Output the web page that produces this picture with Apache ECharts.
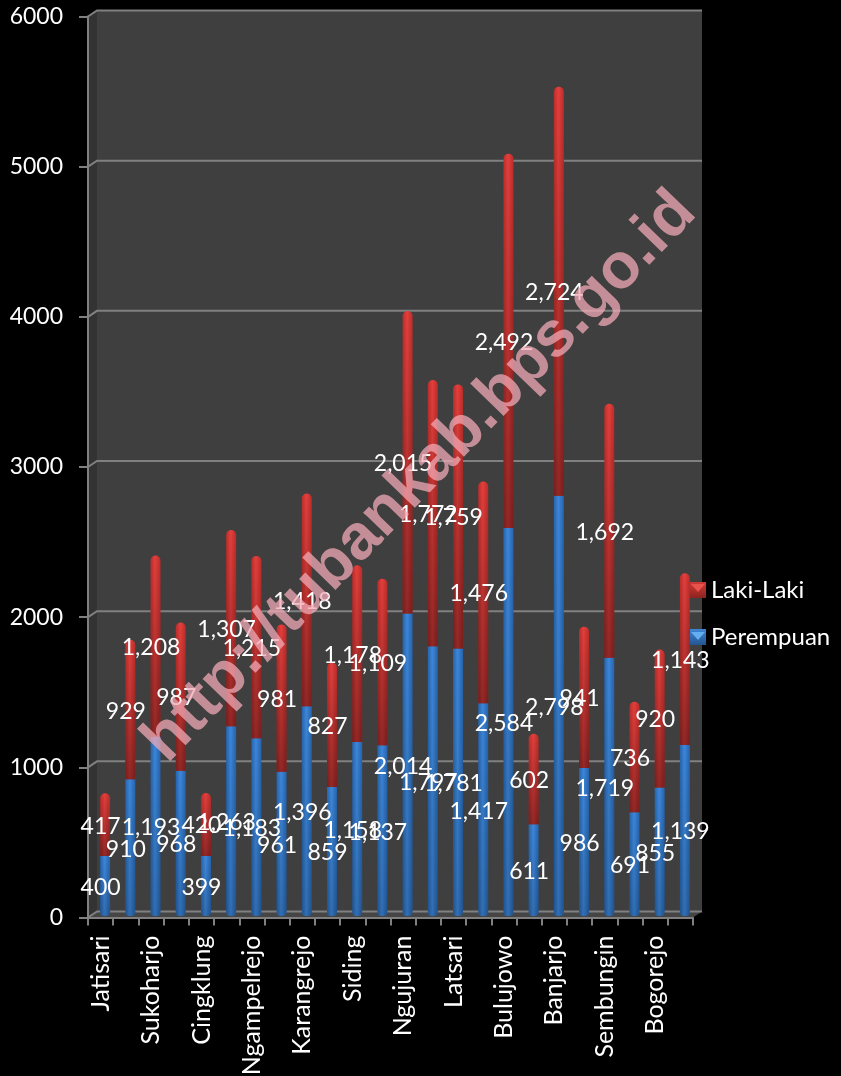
<!DOCTYPE html>
<html>
<head>
<meta charset="utf-8">
<style>
  html, body { margin: 0; padding: 0; background: #000; }
  #chart-container { width: 841px; height: 1076px; }
</style>
<script src="https://cdn.jsdelivr.net/npm/echarts@6/dist/echarts.min.js"></script>
</head>
<body>
<div id="chart-container"></div>
<script>
// every second name is not printed in the source picture
const categories = ['Jatisari', '', 'Sukoharjo', '', 'Cingklung', '', 'Ngampelrejo', '', 'Karangrejo', '', 'Siding', '',
  'Ngujuran', '', 'Latsari', '', 'Bulujowo', '', 'Banjarjo', '', 'Sembungin', '', 'Bogorejo', ''];
const perempuan = [400, 910, 1193, 968, 399, 1263, 1183, 961, 1396, 859, 1158, 1137,
  2014, 1797, 1781, 1417, 2584, 611, 2798, 986, 1719, 691, 855, 1139];
const lakiLaki = [417, 929, 1208, 987, 420, 1307, 1215, 981, 1418, 827, 1178, 1109,
  2015, 1772, 1759, 1476, 2492, 602, 2724, 941, 1692, 736, 920, 1143];
const yTicks = [0, 1000, 2000, 3000, 4000, 5000, 6000];

const FONT = 'Lato';
const GRID_COLOR = '#808080';
const DEPTH_X = 9;
const DEPTH_Y = 6;

function hGrad(edge, mid) {
  return new echarts.graphic.LinearGradient(0, 0, 1, 0, [
    { offset: 0, color: edge },
    { offset: 0.45, color: mid },
    { offset: 1, color: edge }
  ]);
}

// back wall, side wall, floor and the gridlines on them
function renderWall(params, api) {
  const cs = params.coordSys;
  const left = cs.x, right = cs.x + cs.width, top = cs.y, bottom = cs.y + cs.height;
  const y = api.coord([0, yTicks[params.dataIndex]])[1];
  const children = [];
  if (params.dataIndex === 0) {
    children.push({
      type: 'rect',
      shape: { x: left + DEPTH_X, y: top - DEPTH_Y, width: cs.width, height: cs.height },
      style: { fill: '#3f3f3f' }
    }, {
      type: 'polygon',
      shape: { points: [[left, top], [left + DEPTH_X, top - DEPTH_Y], [left + DEPTH_X, bottom - DEPTH_Y], [left, bottom]] },
      style: { fill: '#333333' }
    }, {
      type: 'polygon',
      shape: { points: [[left, bottom], [left + DEPTH_X, bottom - DEPTH_Y], [right + DEPTH_X, bottom - DEPTH_Y], [right, bottom]] },
      style: { fill: '#454545' }
    });
  }
  children.push({
    type: 'polyline',
    shape: { points: [[left, y], [left + DEPTH_X, y - DEPTH_Y], [right + DEPTH_X, y - DEPTH_Y]] },
    style: { stroke: GRID_COLOR, lineWidth: 2, fill: null }
  });
  return { type: 'group', children: children };
}

function renderCylinder(edge, mid, shade, base, rounded) {
  return function (params, api) {
    const i = params.dataIndex;
    const b = base ? base[i] : 0;
    const p0 = api.coord([i, b]);
    const p1 = api.coord([i, b + api.value(1)]);
    const w = 10;
    const x = p0[0] + 4.5 - w / 2;
    const yTop = p1[1] - 1.5;
    const h = p0[1] - p1[1];
    const r = rounded ? [5, 5, 0, 0] : [0, 0, 4, 4];
    return {
      type: 'group',
      children: [{
        type: 'rect',
        shape: { x: x, y: yTop, width: w, height: h, r: r },
        style: { fill: hGrad(edge, mid) }
      }, {
        type: 'rect',
        shape: { x: x, y: yTop, width: w, height: h, r: r },
        style: {
          fill: new echarts.graphic.LinearGradient(0, 0, 0, 1, [
            { offset: 0, color: 'rgba(0,0,0,0)' },
            { offset: 1, color: shade }
          ])
        }
      }]
    };
  };
}

function thousands(params) {
  return params.value.toLocaleString('en-US');
}

function labelSeries(name, data) {
  return {
    name: name,
    type: 'bar',
    stack: 'labels',
    barWidth: 10,
    z: 6,
    data: data,
    itemStyle: { color: 'rgba(0,0,0,0)' },
    label: {
      show: true,
      position: 'inside',
      formatter: thousands,
      color: '#fff',
      fontFamily: FONT,
      fontSize: 23
    }
  };
}

const myChart = echarts.init(document.getElementById('chart-container'), null, { renderer: 'canvas' });

myChart.setOption({
  backgroundColor: '#000',
  animation: false,
  grid: { left: 88, right: 148, top: 16.5, bottom: 158.5, containLabel: false, outerBoundsMode: 'none' },
  legend: {
    orient: 'vertical',
    left: 690,
    top: 578,
    padding: 0,
    itemWidth: 16,
    itemHeight: 16,
    itemGap: 23,
    selectedMode: false,
    textStyle: { color: '#fff', fontFamily: FONT, fontSize: 24 },
    data: [
      {
        name: 'Laki-Laki',
        icon: 'rect',
        itemStyle: {
          color: new echarts.graphic.LinearGradient(0, 0, 0, 1, [
            { offset: 0, color: '#d23a36' },
            { offset: 1, color: '#8c2320' }
          ])
        }
      },
      {
        name: 'Perempuan',
        icon: 'rect',
        itemStyle: {
          color: new echarts.graphic.LinearGradient(0, 0, 0, 1, [
            { offset: 0, color: '#3d86d6' },
            { offset: 1, color: '#245590' }
          ])
        }
      }
    ]
  },
  xAxis: {
    type: 'category',
    data: categories,
    z: 4,
    axisLine: { show: true, lineStyle: { color: GRID_COLOR, width: 2 } },
    axisTick: { show: true, interval: 0, length: 8, alignWithLabel: false, lineStyle: { color: GRID_COLOR, width: 2 } },
    axisLabel: {
      interval: 0,
      rotate: 90,
      margin: 18,
      color: '#fff',
      fontFamily: FONT,
      fontSize: 25
    }
  },
  yAxis: {
    type: 'value',
    min: 0,
    max: 6000,
    interval: 1000,
    z: 4,
    axisLine: { show: true, lineStyle: { color: GRID_COLOR, width: 2 } },
    axisTick: { show: true, length: 9, lineStyle: { color: GRID_COLOR, width: 2 } },
    splitLine: { show: false },
    axisLabel: {
      margin: 25,
      color: '#fff',
      fontFamily: FONT,
      fontSize: 23,
      formatter: function (v) { return String(v); }
    }
  },
  series: [
    {
      type: 'custom',
      silent: true,
      clip: false,
      z: 1,
      data: yTicks,
      renderItem: renderWall
    },
    {
      name: 'Perempuan',
      type: 'custom',
      clip: false,
      z: 5,
      data: perempuan,
      renderItem: renderCylinder('#2763ab', '#3c87da', 'rgba(0,0,0,0.18)', null, false)
    },
    {
      name: 'Laki-Laki',
      type: 'custom',
      clip: false,
      z: 5,
      data: lakiLaki,
      renderItem: renderCylinder('#b92e2b', '#e53f3c', 'rgba(0,0,0,0.36)', perempuan, true)
    },
    labelSeries('Perempuan', perempuan),
    labelSeries('Laki-Laki', lakiLaki)
  ],
  graphic: [
    {
      type: 'polygon',
      z: 20,
      silent: true,
      shape: { points: [[691, 584], [705, 584], [698, 592]] },
      style: { fill: '#e8534c' }
    },
    {
      type: 'polygon',
      z: 20,
      silent: true,
      shape: { points: [[691, 632], [705, 632], [698, 640]] },
      style: { fill: '#63aef0' }
    },
    {
      type: 'text',
      z: 30,
      silent: true,
      x: 420,
      y: 477,
      rotation: 46 * Math.PI / 180,
      style: {
        text: 'http://tubankab.bps.go.id',
        fontFamily: '"Liberation Sans"',
        fontWeight: 'bold',
        fontSize: 64,
        fill: 'rgba(240,170,182,0.75)',
        align: 'center',
        verticalAlign: 'middle'
      }
    }
  ]
});
</script>
</body>
</html>
